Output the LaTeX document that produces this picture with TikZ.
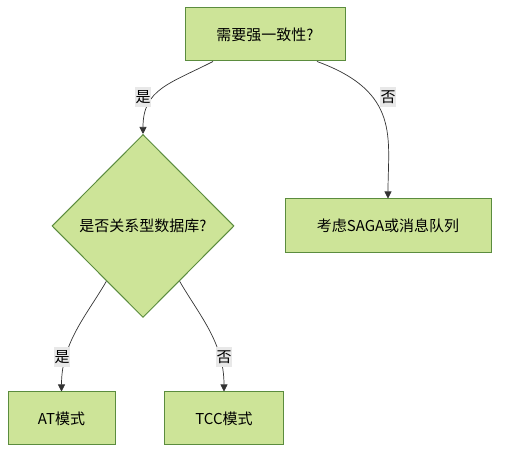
\documentclass[tikz,border=0pt]{standalone}
\usepackage{fontspec}
\setmainfont{Noto Sans CJK SC}
\usetikzlibrary{shapes.geometric,arrows.meta,calc}
\definecolor{boxfill}{HTML}{CDE498}
\definecolor{boxline}{HTML}{5B8C3E}
\definecolor{labfill}{HTML}{E8E8E8}
\definecolor{wire}{HTML}{333333}

\begin{document}
\begin{tikzpicture}[x=1pt, y=1pt, font=\fontsize{15}{18}\selectfont,
    proc/.style={draw=boxline, fill=boxfill, line width=1pt, inner sep=0pt, minimum height=53pt},
    choice/.style={draw=boxline, fill=boxfill, line width=1pt, diamond, aspect=1, inner sep=0pt,
        minimum width=182pt, minimum height=183pt},
    lab/.style={fill=labfill, inner xsep=0.5pt, inner ysep=3.5pt},
    flow/.style={draw=wire, line width=0.7pt, -{Triangle[length=7pt,width=7pt]}}]
    \useasboundingbox (0,0) rectangle (507,460);

    \node[proc, minimum width=160pt] (q1) at (265,425.5) {需要强一致性?};
    \node[choice] (q2) at (143,234) {是否关系型数据库?};
    \node[proc, minimum width=206pt, minimum height=54pt] (saga) at (388,234) {考虑SAGA或消息队列};
    \node[proc, minimum width=107pt] (at) at (61.5,41.5) {AT模式};
    \node[proc, minimum width=119pt] (tcc) at (224,41.5) {TCC模式};

    \coordinate (q1l) at ([xshift=-52pt]q1.south);
    \coordinate (q1r) at ([xshift=52pt]q1.south);
    \coordinate (q2l) at ($(q2.west)!0.6!(q2.south)$);
    \coordinate (q2r) at ($(q2.east)!0.6!(q2.south)$);

    \draw[flow] (q1l) to[out=207, in=90, out looseness=1.25, in looseness=1.13] (q2);
    \draw[flow] (q1r) to[out=-20, in=90, out looseness=1.48, in looseness=1] (saga);
    \draw[flow] (q2l) to[out=240, in=90, out looseness=0.85, in looseness=1.06] (at);
    \draw[flow] (q2r) to[out=-60, in=90, out looseness=0.85, in looseness=1.06] (tcc);

    % edge labels
    \node[lab] (y1) at (143,363) {是};
    \node[lab] (n1) at (388,363) {否};
    \node[lab] (y2) at (62,103) {是};
    \node[lab] (n2) at (224,103) {否};
\end{tikzpicture}
\end{document}
